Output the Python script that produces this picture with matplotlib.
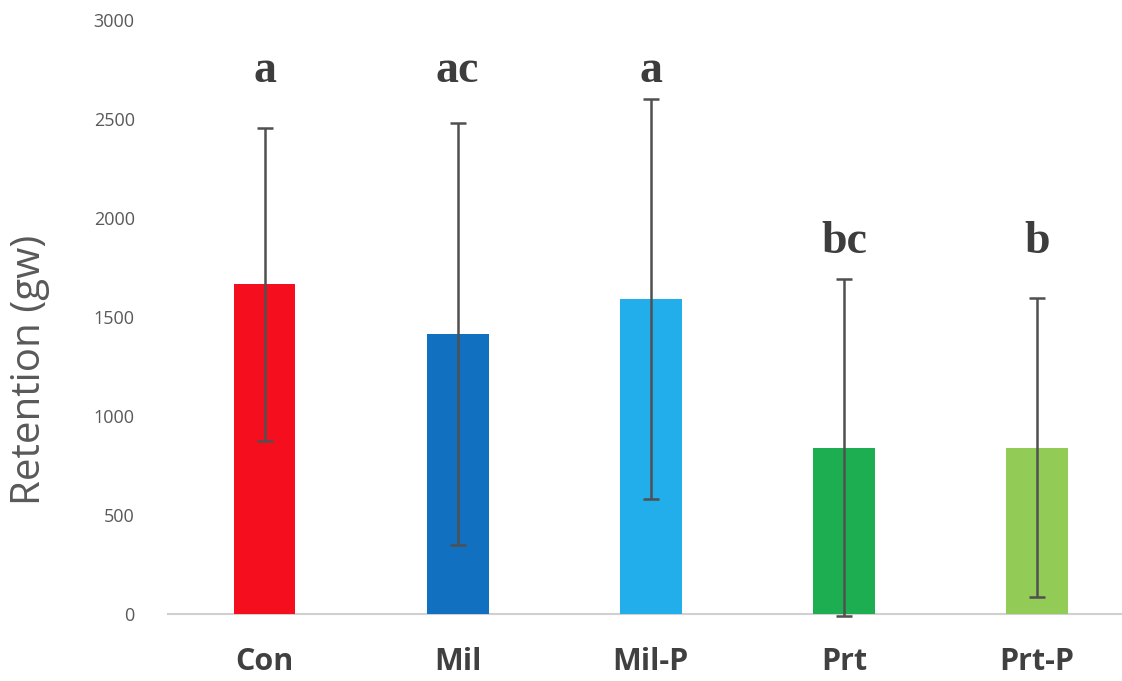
import matplotlib
matplotlib.use("Agg")
import matplotlib.pyplot as plt

categories = ["Con", "Mil", "Mil-P", "Prt", "Prt-P"]
means = [1665, 1415, 1590, 840, 840]
errors = [792, 1066, 1010, 852, 755]
letters = ["a", "ac", "a", "bc", "b"]
letter_y = [2740, 2740, 2740, 1880, 1880]
colors = ["#F50F1E", "#1170BF", "#21AEEA", "#1CAE50", "#92CB55"]

fig = plt.figure(figsize=(11.22, 6.81), dpi=100)
ax = fig.add_axes([168/1122, 1 - 614/681, (1122 - 168)/1122, (614 - 20)/681])

x = list(range(len(categories)))
ax.bar(x, means, width=0.32, color=colors, zorder=2)
eb = ax.errorbar(x, means, yerr=errors, fmt="none", ecolor="#505050",
                 elinewidth=1.8, capsize=6, capthick=1.8, zorder=3)
for art in eb.lines[1] + eb.lines[2]:
    art.set_clip_on(False)

for xi, lt, ly in zip(x, letters, letter_y):
    ax.text(xi, ly, lt, ha="center", va="center", fontsize=33,
            fontweight="bold", family="Liberation Serif", color="#3d3d3d")

ax.set_xlim(-0.5, 4.44)
ax.set_ylim(0, 3000)
ax.set_yticks([0, 500, 1000, 1500, 2000, 2500, 3000])
ax.set_xticks(x)
ax.set_xticklabels(categories, fontsize=22, fontweight="bold",
                   family="Open Sans", color="#404040")
ax.tick_params(axis="x", length=0, pad=24)
ax.tick_params(axis="y", length=0, pad=24, labelsize=13, labelcolor="#595959")
for lab in ax.get_yticklabels():
    lab.set_family("Open Sans")

for s in ["top", "right", "left"]:
    ax.spines[s].set_visible(False)
ax.spines["bottom"].set_color("#d0d0d0")
ax.spines["bottom"].set_linewidth(1.5)
ax.spines["bottom"].set_zorder(1)

fig.text(30/1122, 1 - 370/681, "Retention (gw)", rotation=90, ha="center",
         va="center", fontsize=29, family="Open Sans", color="#595959")

fig.savefig("out.png", dpi=100, facecolor="white")
